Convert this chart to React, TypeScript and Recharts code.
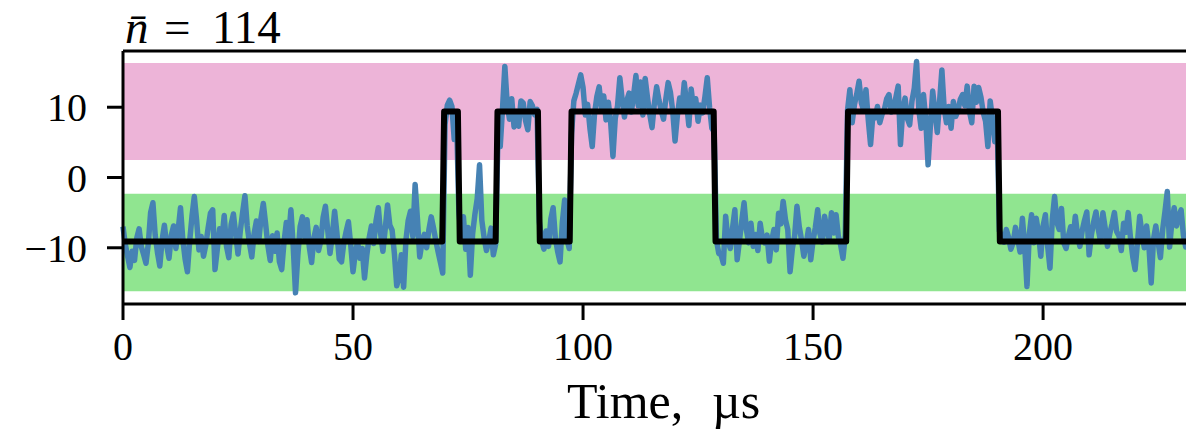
import { LineChart, Line, XAxis, YAxis, ReferenceArea, ReferenceLine } from "recharts"

// one sample every 0.5 µs, starting at t = 0
const SAMPLE_STEP = 0.5

const signal = [
  -7.0, -9.5, -11.2, -12.8, -10.5, -11.8, -8.6, -7.3, -9.9, -11.0, -12.2, -9.4, -5.0, -3.6, -8.2, -10.7, -12.6, -8.9, -6.8, -9.7,
  -11.5, -8.2, -6.9, -10.1, -7.4, -4.3, -8.8, -11.6, -13.4, -9.0, -5.5, -2.7, -6.1, -10.3, -8.4, -11.2, -9.6, -7.2, -5.1, -4.6,
  -13.1, -10.2, -7.3, -8.9, -5.4, -9.8, -11.4, -6.7, -5.2, -8.1, -10.9, -7.6, -5.0, -2.6, -6.9, -9.4, -11.3, -8.0, -6.2, -9.1,
  -5.8, -3.7, -6.6, -9.7, -11.8, -8.3, -10.5, -7.9, -12.0, -13.1, -9.2, -6.4, -8.7, -4.6, -9.8, -16.4, -11.1, -7.0, -5.6, -8.5,
  -6.0, -9.9, -12.1, -8.6, -7.1, -10.4, -9.0, -5.7, -4.1, -7.5, -10.8, -8.2, -4.8, -7.9, -11.6, -12.0, -9.3, -7.7, -6.3, -9.6,
  -13.4, -10.7, -9.2, -11.5, -10.1, -14.3, -11.0, -8.6, -6.9, -9.4, -6.2, -4.3, -8.0, -10.5, -7.3, -3.9, -6.8, -7.5, -10.9, -15.4,
  -14.2, -11.0, -15.6, -8.9, -6.1, -4.8, -8.4, -1.0, -5.9, -11.3, -9.2, -8.1, -10.0, -7.4, -5.6, -7.2, -9.0, -10.6, -12.1, -13.6,
  7.5, 10.3, 11.0, 10.1, 5.4, 8.6, -4.7, -8.4, -5.6, -10.2, -7.1, -13.9, -8.0, -5.2, -3.0, 1.8, -6.1, -8.6, -10.4, -9.1,
  -7.2, -11.0, -9.5, 6.0, 4.4, 9.8, 15.8, 10.6, 8.3, 11.2, 7.2, 9.4, 7.3, 10.9, 10.6, 8.1, 6.8, 10.8, 10.2, 8.9,
  9.7, -6.3, -8.9, -10.2, -7.6, -9.8, -5.9, -4.3, -8.7, -10.6, -12.0, -6.4, -3.2, -8.8, -10.1, 6.2, 10.9, 12.0, 13.3, 14.6,
  12.8, 8.9, 10.4, 7.0, 4.4, 9.1, 11.5, 12.9, 9.8, 11.6, 8.2, 10.7, 7.9, 3.0, 8.4, 10.2, 14.2, 11.1, 8.6, 10.9,
  12.0, 9.3, 11.8, 14.5, 10.2, 13.6, 8.9, 14.1, 11.4, 9.0, 7.1, 10.5, 12.9, 11.0, 9.5, 8.3, 11.2, 13.5, 12.1, 9.4,
  5.2, 8.8, 11.3, 9.7, 13.5, 10.6, 7.4, 12.6, 9.9, 11.2, 8.0, 10.3, 9.2, 11.5, 14.2, 10.0, 7.0, 6.5, -8.9, -10.8,
  -11.0, -12.2, -5.5, -8.9, -10.1, -7.2, -4.6, -11.7, -9.0, -6.2, -3.6, -7.4, -9.3, -6.5, -9.8, -8.1, -10.4, -6.5, -8.7, -9.3,
  -8.2, -11.9, -9.0, -7.4, -10.3, -5.1, -6.6, -3.4, -6.0, -7.4, -13.4, -10.1, -8.3, -4.1, -7.0, -8.9, -11.2, -9.5, -7.4, -11.7,
  -9.0, -7.1, -4.6, -8.0, -9.2, -5.5, -7.3, -8.8, -5.0, -7.9, -5.3, -8.4, -9.6, -11.5, -8.2, 9.6, 12.5, 7.8, 10.4, 11.9,
  13.7, 10.6, 9.5, 12.5, 8.2, 4.7, 8.9, 8.5, 10.1, 7.8, 9.0, 9.7, 11.2, 11.8, 9.3, 9.9, 11.4, 13.0, 4.7, 9.6,
  11.3, 8.4, 7.5, 10.9, 12.7, 16.5, 9.6, 7.0, 11.8, 8.2, 1.8, 7.3, 12.3, 9.4, 6.4, 10.8, 15.3, 9.8, 7.8, 10.1,
  7.0, 10.8, 8.7, 9.5, 11.1, 11.8, 10.2, 13.0, 9.4, 7.8, 13.0, 10.7, 12.8, 11.4, 9.2, 8.0, 4.4, 10.9, 8.3, 5.1,
  8.6, -7.6, -8.4, -9.2, -7.4, -8.5, -10.2, -9.3, -7.1, -8.8, -10.6, -5.8, -9.7, -15.5, -8.1, -5.3, -9.3, -5.8, -7.9, -11.2,
  -6.9, -5.3, -9.8, -12.9, -6.0, -2.7, -6.4, -7.4, -4.4, -9.3, -10.1, -8.3, -7.0, -9.0, -5.5, -8.2, -9.8, -7.6, -6.1, -4.9,
  -11.0, -8.2, -6.3, -4.9, -7.4, -9.1, -5.0, -7.2, -9.8, -8.0, -6.6, -5.0, -7.7, -8.3, -10.4, -6.5, -7.8, -5.0, -8.6, -11.3,
  -13.1, -9.4, -5.5, -8.1, -10.0, -6.9, -9.7, -15.0, -8.8, -6.9, -9.2, -11.4, -7.4, -4.8, -2.0, -9.9, -6.3, -4.3, -6.9, -5.5,
  -4.6, -8.2, -9.9, -8.0,
]

// fitted two-level state: switching times (µs) and the two levels
const switchTimes = [69.6, 73.0, 81.2, 90.4, 97.3, 128.6, 157.4, 190.4]
const lowLevel = -9.1
const highLevel = 9.4

// decision bands
const brightBand = [2.5, 16.3]
const darkBand = [-16.2, -2.3]

const xTicks = [0, 50, 100, 150, 200]
const yTicks = [-10, 0, 10]
const xDomain = [0, 231.5]
const yDomain = [-18, 18]

const traceData = signal.map((v, i) => ({ t: i * SAMPLE_STEP, v }))

function buildStep() {
  const pts = [{ t: 0, v: lowLevel }]
  let cur = lowLevel
  for (const s of switchTimes) {
    const next = cur === lowLevel ? highLevel : lowLevel
    pts.push({ t: s - 0.2, v: cur })
    pts.push({ t: s + 0.2, v: next })
    cur = next
  }
  pts.push({ t: xDomain[1], v: cur })
  return pts
}
const stepData = buildStep()

const font = "'Liberation Serif', 'DejaVu Serif', serif"
const axisStroke = { stroke: "#000", strokeWidth: 3 }
const tickStyle = { fill: "#000", fontSize: 40, fontFamily: font }
const fmtY = (v: number) => (v < 0 ? `\u2212${Math.abs(v)}` : `${v}`)

export default function App() {
  return (
    <div
      style={{
        position: "fixed",
        left: 0,
        top: 0,
        width: 1186,
        height: 431,
        overflow: "hidden",
        background: "#fff",
        fontFamily: font,
      }}
    >
      <LineChart
        width={1188}
        height={431}
        data={traceData}
        margin={{ top: 51, right: 0, bottom: 67, left: 0 }}
      >
        <ReferenceArea y1={brightBand[0]} y2={brightBand[1]} fill="#edb4d8" fillOpacity={1} stroke="none" />
        <ReferenceArea y1={darkBand[0]} y2={darkBand[1]} fill="#90e590" fillOpacity={1} stroke="none" />
        <XAxis
          type="number"
          dataKey="t"
          domain={xDomain}
          ticks={xTicks}
          interval={0}
          height={60}
          tickSize={16}
          tickMargin={12}
          axisLine={axisStroke}
          tickLine={axisStroke}
          tick={tickStyle}
        />
        <YAxis
          type="number"
          domain={yDomain}
          ticks={yTicks}
          interval={0}
          width={123}
          tickSize={16}
          tickMargin={20}
          tickFormatter={fmtY}
          axisLine={axisStroke}
          tickLine={axisStroke}
          tick={tickStyle}
        />
        <ReferenceLine y={yDomain[1]} stroke="#000" strokeWidth={3} />
        <Line
          dataKey="v"
          type="linear"
          stroke="#4682b4"
          strokeWidth={5.5}
          strokeLinejoin="round"
          dot={false}
          activeDot={false}
          isAnimationActive={false}
        />
        <Line
          data={stepData}
          dataKey="v"
          type="linear"
          stroke="#000"
          strokeWidth={6}
          strokeLinejoin="round"
          dot={false}
          activeDot={false}
          isAnimationActive={false}
        />
      </LineChart>
      <svg
        width={1186}
        height={431}
        style={{ position: "absolute", left: 0, top: 0, pointerEvents: "none" }}
      >
        <text y={43} fontSize={47} fontFamily={font} fill="#000">
          <tspan x={125} fontStyle="italic">{"n\u0304"}</tspan>
          <tspan x={164}>=</tspan>
          <tspan x={212}>114</tspan>
        </text>
        <text x={567} y={418} fontSize={50} fontFamily={font} fill="#000">
          Time,
        </text>
        <text x={712} y={418} fontSize={50} fontFamily={font} fill="#000">
          µs
        </text>
      </svg>
    </div>
  )
}
